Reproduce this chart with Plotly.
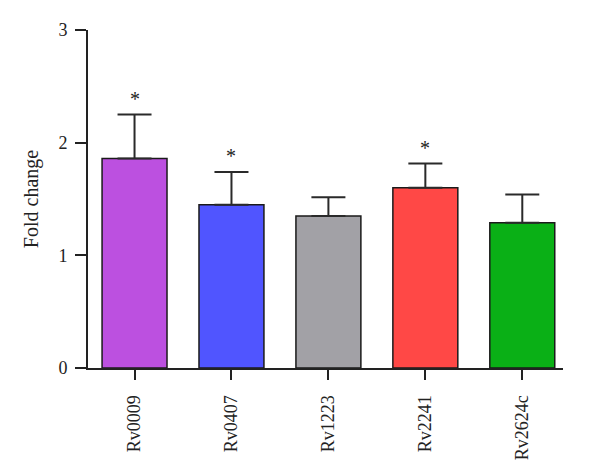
import plotly.graph_objects as go

genes = ["Rv0009", "Rv0407", "Rv1223", "Rv2241", "Rv2624c"]
fold_change = [1.86, 1.45, 1.35, 1.60, 1.29]
err_up = [0.39, 0.29, 0.165, 0.215, 0.25]
significant = [True, True, False, True, False]
bar_colors = ["#BC50E0", "#5055FF", "#A2A1A6", "#FF4846", "#0AB016"]

font = "Liberation Serif"

fig = go.Figure()
fig.add_trace(go.Bar(
    x=genes, y=fold_change,
    marker=dict(color=bar_colors, line=dict(color="#1a1a1a", width=1.5)),
    error_y=dict(type="data", symmetric=False, array=err_up,
                 arrayminus=[0] * len(genes),
                 color="#2a2a2a", thickness=2, width=17),
    width=0.67,
))

# asterisks above the significant bars
for g, v, e, s in zip(genes, fold_change, err_up, significant):
    if s:
        fig.add_annotation(x=g, y=v + e, text="*", showarrow=False,
                           yanchor="bottom", yshift=3,
                           font=dict(family=font, size=20, color="#222"))

fig.update_layout(
    width=600, height=476,
    margin=dict(l=88, r=37, t=30, b=108),
    plot_bgcolor="white", paper_bgcolor="white",
    showlegend=False,
    font=dict(family=font, size=18, color="#222"),
    xaxis=dict(
        range=[-0.48, 4.42], showline=True, linecolor="#222", linewidth=2,
        ticks="outside", ticklen=10, tickwidth=2, tickcolor="#222",
        tickangle=-90, ticklabelstandoff=8, showgrid=False, zeroline=False,
    ),
    yaxis=dict(
        range=[0, 3], tickvals=[0, 1, 2, 3], showline=True,
        linecolor="#222", linewidth=2, ticks="outside", ticklen=11,
        tickwidth=2, tickcolor="#222", ticklabelstandoff=4,
        showgrid=False, zeroline=False,
        title=dict(text="Fold change", standoff=14, font=dict(size=20)),
    ),
)

# page body has a default margin; drop it so the chart sits at 0,0
fig.write_html("out.html", config={"displayModeBar": False},
               post_script="document.body.style.margin='0';")
